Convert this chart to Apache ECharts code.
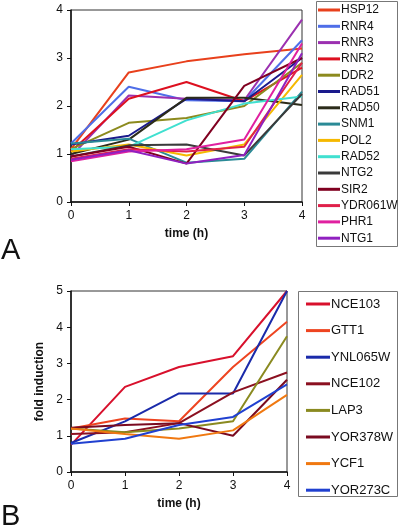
<!DOCTYPE html>
<html><head><meta charset="utf-8">
<script src="https://cdn.jsdelivr.net/npm/echarts@6/dist/echarts.min.js"></script>
<style>html,body{margin:0;padding:0;background:#fff}#c{width:400px;height:531px}</style>
</head><body><div id="c"></div>
<script>
const times = [0, 1, 2, 3, 4];
const yTicksA = [0, 1, 2, 3, 4];
const yTicksB = [0, 1, 2, 3, 4, 5];

const namesA = ['HSP12','RNR4','RNR3','RNR2','DDR2','RAD51','RAD50','SNM1','POL2','RAD52','NTG2','SIR2','YDR061W','PHR1','NTG1'];
const HSP12   = [1.10, 2.70, 2.93, 3.08, 3.20];
const RNR4    = [1.22, 2.40, 2.12, 2.10, 3.37];
const RNR3    = [0.95, 2.22, 2.15, 2.12, 3.80];
const RNR2    = [1.05, 2.15, 2.50, 2.10, 2.80];
const DDR2    = [1.10, 1.65, 1.75, 2.00, 2.90];
const RAD51   = [1.20, 1.38, 2.15, 2.10, 3.00];
const RAD50   = [1.00, 1.30, 2.17, 2.17, 2.02];
const SNM1    = [1.22, 1.32, 0.82, 0.90, 2.30];
const POL2    = [1.05, 1.20, 0.97, 1.20, 2.65];
const RAD52   = [1.10, 1.15, 1.70, 2.05, 2.20];
const NTG2    = [0.95, 1.18, 1.20, 0.97, 2.25];
const SIR2    = [0.95, 1.15, 0.80, 2.42, 3.00];
const YDR061W = [0.90, 1.10, 1.05, 1.15, 2.90];
const PHR1    = [0.85, 1.05, 1.10, 1.30, 3.30];
const NTG1    = [0.88, 1.08, 0.80, 0.98, 3.10];
const valuesA = [HSP12,RNR4,RNR3,RNR2,DDR2,RAD51,RAD50,SNM1,POL2,RAD52,NTG2,SIR2,YDR061W,PHR1,NTG1];
const colorsA = ['#e8401c','#4f6ee8','#9b30b0','#dd1020','#8c8a1e','#1a1a8c','#2b2b1a','#2a8a96','#f5b800','#40e0d0','#3a3a3a','#800020','#e0204a','#e020a0','#9020c0'];

const namesB = ['NCE103','GTT1','YNL065W','NCE102','LAP3','YOR378W','YCF1','YOR273C'];
const NCE103  = [0.75, 2.35, 2.90, 3.20, 5.00];
const GTT1    = [1.20, 1.48, 1.40, 2.90, 4.15];
const YNL065W = [0.80, 1.40, 2.17, 2.17, 5.00];
const NCE102  = [1.05, 1.10, 1.35, 2.20, 2.75];
const LAP3    = [1.20, 1.10, 1.20, 1.40, 3.75];
const YOR378W = [1.22, 1.30, 1.35, 1.00, 2.55];
const YCF1    = [1.20, 1.05, 0.92, 1.15, 2.13];
const YOR273C = [0.78, 0.92, 1.30, 1.52, 2.42];
const valuesB = [NCE103,GTT1,YNL065W,NCE102,LAP3,YOR378W,YCF1,YOR273C];
const colorsB = ['#d8102c','#ee4420','#1a2aaa','#8b1020','#8a8a20','#7a0a20','#f07810','#2040d0'];

const FONT = 'Liberation Sans, Arial, sans-serif';
function mkSeries(names, vals, colors, idx){
  return names.map((n,i)=>({
    name:n, type:'line', xAxisIndex:idx, yAxisIndex:idx,
    data: times.map((t,j)=>[t, vals[i][j]]),
    showSymbol:false, symbol:'none',
    lineStyle:{color:colors[i], width:2}, itemStyle:{color:colors[i]},
    animation:false, z: 2
  }));
}
function xAx(idx){
  return {type:'value', gridIndex:idx, min:0, max:4, interval:1,
    axisLine:{show:true, lineStyle:{color:'#111', width:1.5}},
    axisTick:{show:true, inside:false, length:4, lineStyle:{color:'#111'}},
    axisLabel:{color:'#111', fontSize:12, fontFamily:FONT, margin:8, formatter:v=>times.includes(v)?String(v):''},
    splitLine:{show:false},
    name:'time (h)', nameLocation:'middle', nameGap:26,
    nameTextStyle:{fontWeight:'bold', fontSize:12, color:'#111', fontFamily:FONT}};
}
function yAx(idx, max, ticks, name){
  return {type:'value', gridIndex:idx, min:0, max:max, interval:1,
    axisLine:{show:true, lineStyle:{color:'#111', width:1.5}},
    axisTick:{show:true, length:4, lineStyle:{color:'#111'}},
    axisLabel:{color:'#111', fontSize:12, fontFamily:FONT, margin:8, formatter:v=>ticks.includes(v)?String(v):''},
    splitLine:{show:false},
    name:name, nameLocation:'middle', nameGap:15, nameRotate:90,
    nameTextStyle:{fontWeight:'bold', fontSize:12, color:'#111', fontFamily:FONT}};
}
const chart = echarts.init(document.getElementById('c'), null, {renderer:'canvas'});
chart.setOption({
  backgroundColor:'#fff',
  animation:false,
  grid:[
    {left:71, top:10, width:231, height:192, show:true, borderColor:'#333', borderWidth:1, backgroundColor:'transparent'},
    {left:71, top:291, width:216, height:181, show:true, borderColor:'#333', borderWidth:1, backgroundColor:'transparent'}
  ],
  xAxis:[xAx(0), xAx(1)],
  yAxis:[yAx(0, 4, yTicksA, ''), yAx(1, 5, yTicksB, 'fold induction')],
  legend:[
    {data:namesA, orient:'vertical', left:318, top:3, padding:0, itemGap:2.3, itemWidth:22, itemHeight:3, icon:'rect',
     textStyle:{fontSize:12, lineHeight:14, fontFamily:FONT, color:'#111', padding:[0,0,0,-4]}},
    {data:namesB, orient:'vertical', left:306, top:297, padding:0, itemGap:12.6, itemWidth:24, itemHeight:3, icon:'rect',
     textStyle:{fontSize:13, lineHeight:14, fontFamily:FONT, color:'#111', padding:[0,0,0,-4]}}
  ],
  series:[...mkSeries(namesA, valuesA, colorsA, 0), ...mkSeries(namesB, valuesB, colorsB, 1)],
  graphic:[
    {type:'rect', shape:{x:316.5, y:1.5, width:81, height:245}, style:{fill:'none', stroke:'#777', lineWidth:1}, silent:true},
    {type:'rect', shape:{x:298.5, y:291.5, width:99, height:205}, style:{fill:'none', stroke:'#777', lineWidth:1}, silent:true},
    {type:'text', left:1, top:236, style:{text:'A', fontSize:29, fontFamily:FONT, fill:'#111'}},
    {type:'text', left:1, top:502, style:{text:'B', fontSize:29, fontFamily:FONT, fill:'#111'}}
  ]
});
</script></body></html>
